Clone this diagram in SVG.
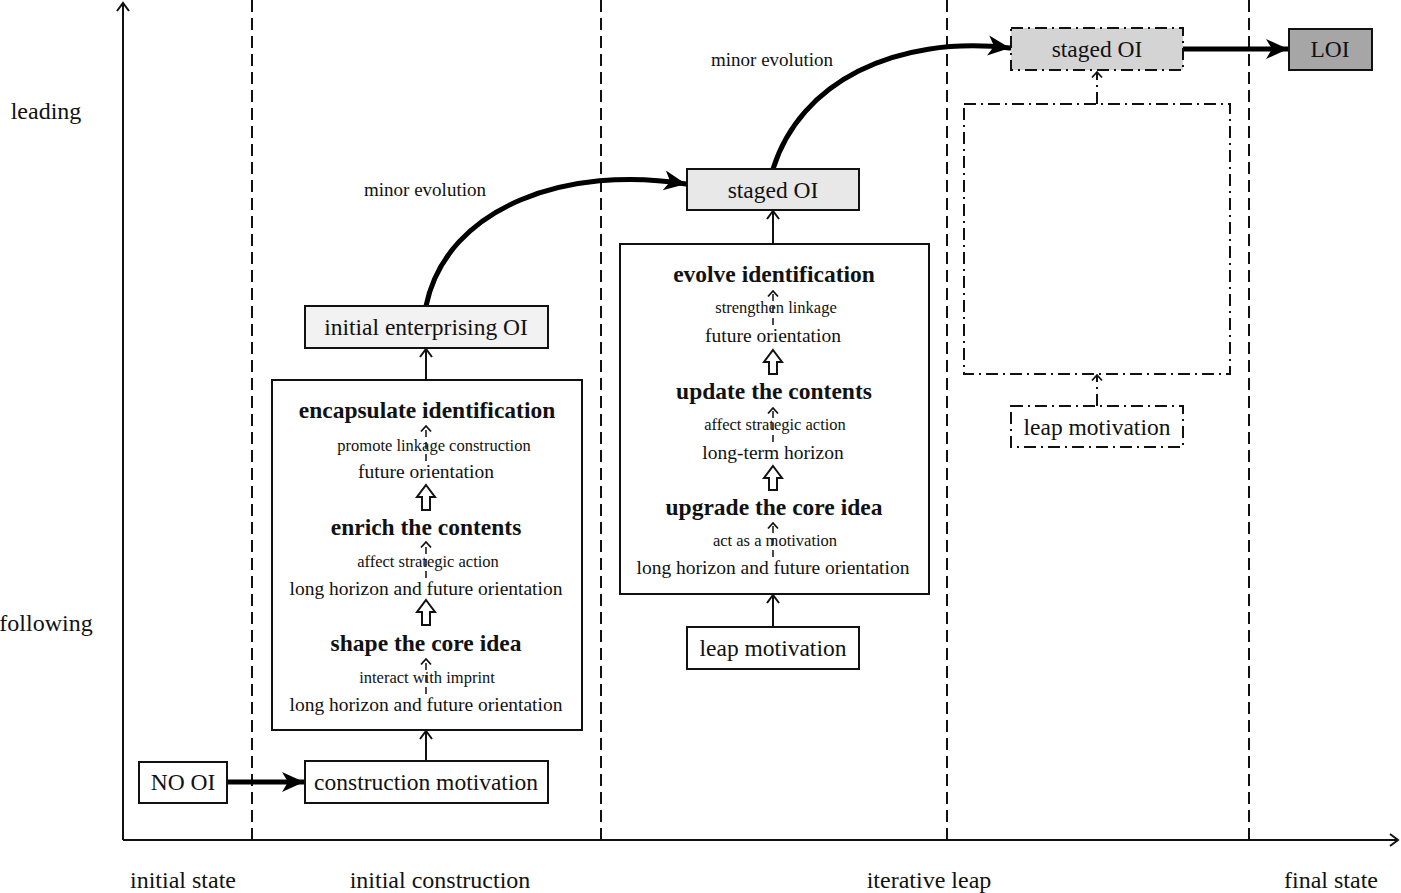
<svg xmlns="http://www.w3.org/2000/svg" width="1401" height="893" viewBox="0 0 1401 893">
<style>
text{font-family:"Liberation Serif","Times New Roman",serif;fill:#111;text-anchor:middle}
.lab{font-size:24px}
.node{font-size:23.5px}
.bold{font-size:23.5px;font-weight:bold}
.mid{font-size:19.5px}
.evo{font-size:19px}
.small{font-size:16.5px}
.box{fill:#fff;stroke:#111;stroke-width:2}
.dd{fill:none;stroke:#111;stroke-width:2;stroke-dasharray:12 5 2 5}
.thin{fill:none;stroke:#111;stroke-width:2}
.thick{fill:none;stroke:#000;stroke-width:5;stroke-linecap:round}
.dash{fill:none;stroke:#111;stroke-width:2;stroke-dasharray:12 6}
.sdash{fill:none;stroke:#111;stroke-width:1.5;stroke-dasharray:7 5}
.hollow{fill:#fff;stroke:#111;stroke-width:2;stroke-linejoin:miter}
</style>
<defs>
<marker id="chev" markerUnits="userSpaceOnUse" markerWidth="20" markerHeight="20" viewBox="-10 -10 20 20" refX="0" refY="0" orient="auto">
<polyline points="-8,-6 0,0 -8,6" fill="none" stroke="#111" stroke-width="2"/>
</marker>
<marker id="schev" markerUnits="userSpaceOnUse" markerWidth="14" markerHeight="14" viewBox="-7 -7 14 14" refX="0" refY="0" orient="auto">
<polyline points="-5.5,-5 0,0 -5.5,5" fill="none" stroke="#111" stroke-width="1.8"/>
</marker>
<marker id="fill" markerUnits="userSpaceOnUse" markerWidth="30" markerHeight="30" viewBox="-24 -12 30 24" refX="0" refY="0" orient="auto">
<path d="M-22,-10 L0,0 L-22,10 L-16,0 Z" fill="#000"/>
</marker>
</defs>

<g id="axes">
<line x1="123" y1="840" x2="123" y2="3" class="thin" marker-end="url(#chev)"/>
<line x1="123" y1="840" x2="1398" y2="840" class="thin" marker-end="url(#chev)"/>
<line x1="252" y1="0" x2="252" y2="840" class="dash"/>
<line x1="601" y1="0" x2="601" y2="840" class="dash"/>
<line x1="947" y1="0" x2="947" y2="840" class="dash"/>
<line x1="1249" y1="0" x2="1249" y2="840" class="dash"/>
<text class="lab" x="46" y="119">leading</text>
<text class="lab" x="46" y="631">following</text>
<text class="lab" x="183" y="888">initial state</text>
<text class="lab" x="440" y="888">initial construction</text>
<text class="lab" x="929" y="888">iterative leap</text>
<text class="lab" x="1331" y="888">final state</text>
</g>

<g id="connectors">
<line x1="227" y1="782" x2="304" y2="782" class="thick" marker-end="url(#fill)"/>
<line x1="426" y1="761" x2="426" y2="731" class="thin" marker-end="url(#chev)"/>
<line x1="426" y1="380" x2="426" y2="349" class="thin" marker-end="url(#chev)"/>
<path d="M426,306 C447,205 570,165 686,184" class="thick" marker-end="url(#fill)"/>
<text class="evo" x="425" y="196">minor evolution</text>
<line x1="773" y1="627" x2="773" y2="595" class="thin" marker-end="url(#chev)"/>
<line x1="773" y1="244" x2="773" y2="211" class="thin" marker-end="url(#chev)"/>
<path d="M773,169 C800,82 895,35 1010,48" class="thick" marker-end="url(#fill)"/>
<text class="evo" x="772" y="66">minor evolution</text>
<line x1="1183" y1="49" x2="1288" y2="49" class="thick" marker-end="url(#fill)"/>
<line x1="1097" y1="104" x2="1097" y2="72" class="dd" marker-end="url(#schev)"/>
<line x1="1097" y1="406" x2="1097" y2="375" class="dd" marker-end="url(#schev)"/>
</g>

<g id="no-oi">
<rect class="box" x="139" y="762" width="88" height="41"/>
<text class="node" x="183" y="790">NO OI</text>
</g>

<g id="construction-motivation">
<rect class="box" x="305" y="761" width="243" height="42"/>
<text class="node" x="426" y="790">construction motivation</text>
</g>

<g id="construction-box">
<rect class="box" x="272" y="380" width="310" height="350"/>
<text class="bold" x="427" y="418">encapsulate identification</text>
<line x1="426" y1="461" x2="426" y2="426" class="sdash" marker-end="url(#schev)"/>
<text class="small" x="434" y="451">promote linkage construction</text>
<text class="mid" x="426" y="478">future orientation</text>
<path class="hollow" d="M426,485 L435,497 L430,497 L430,510 L422,510 L422,497 L417,497 Z"/>
<text class="bold" x="426" y="535">enrich the contents</text>
<line x1="426" y1="578" x2="426" y2="542" class="sdash" marker-end="url(#schev)"/>
<text class="small" x="428" y="567">affect strategic action</text>
<text class="mid" x="426" y="595">long horizon and future orientation</text>
<path class="hollow" d="M426,600 L435,612 L430,612 L430,625 L422,625 L422,612 L417,612 Z"/>
<text class="bold" x="426" y="651">shape the core idea</text>
<line x1="426" y1="694" x2="426" y2="659" class="sdash" marker-end="url(#schev)"/>
<text class="small" x="427" y="683">interact with imprint</text>
<text class="mid" x="426" y="711">long horizon and future orientation</text>
</g>

<g id="initial-oi">
<rect class="box" x="305" y="306" width="243" height="42" style="fill:#f2f2f2"/>
<text class="node" x="426" y="335">initial enterprising OI</text>
</g>

<g id="staged-oi-1">
<rect class="box" x="687" y="169" width="172" height="41" style="fill:#e8e8e8"/>
<text class="node" x="773" y="198">staged OI</text>
</g>

<g id="leap-box">
<rect class="box" x="620" y="244" width="309" height="350"/>
<text class="bold" x="774" y="282">evolve identification</text>
<line x1="773" y1="325" x2="773" y2="291" class="sdash" marker-end="url(#schev)"/>
<text class="small" x="776" y="313">strengthen linkage</text>
<text class="mid" x="773" y="342">future orientation</text>
<path class="hollow" d="M773,350 L782,362 L777,362 L777,374 L769,374 L769,362 L764,362 Z"/>
<text class="bold" x="774" y="399">update the contents</text>
<line x1="773" y1="442" x2="773" y2="408" class="sdash" marker-end="url(#schev)"/>
<text class="small" x="775" y="430">affect strategic action</text>
<text class="mid" x="773" y="459">long-term horizon</text>
<path class="hollow" d="M773,466 L782,478 L777,478 L777,490 L769,490 L769,478 L764,478 Z"/>
<text class="bold" x="774" y="515">upgrade the core idea</text>
<line x1="773" y1="557" x2="773" y2="523" class="sdash" marker-end="url(#schev)"/>
<text class="small" x="775" y="546">act as a motivation</text>
<text class="mid" x="773" y="574">long horizon and future orientation</text>
</g>

<g id="leap-motivation-1">
<rect class="box" x="687" y="627" width="172" height="42"/>
<text class="node" x="773" y="656">leap motivation</text>
</g>

<g id="staged-oi-2">
<rect x="1011" y="28" width="172" height="42" style="fill:#d4d4d4"/>
<rect class="dd" x="1011" y="28" width="172" height="42"/>
<text class="node" x="1097" y="57">staged OI</text>
</g>

<g id="future-box">
<rect class="dd" x="964" y="104" width="266" height="270"/>
</g>

<g id="leap-motivation-2">
<rect class="dd" x="1011" y="406" width="172" height="41"/>
<text class="node" x="1097" y="435">leap motivation</text>
</g>

<g id="loi">
<rect class="box" x="1289" y="29" width="83" height="41" style="fill:#a6a6a6"/>
<text class="node" x="1330" y="57">LOI</text>
</g>
</svg>
